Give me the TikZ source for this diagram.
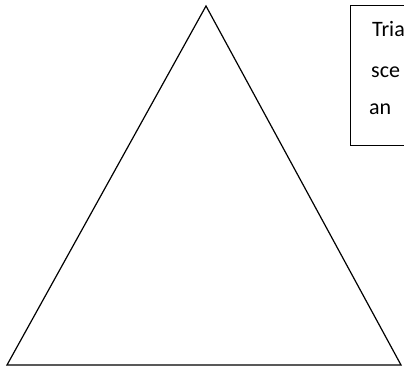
\documentclass[tikz,border=0pt]{standalone}
\usepackage{fontspec}
\setmainfont{Carlito}
\begin{document}
\begin{tikzpicture}[x=1pt,y=1pt,
  edge/.style={draw=black,line width=1.2pt,line join=miter},
  txt/.style={anchor=base west,inner sep=0pt,font=\fontsize{22}{26}\selectfont}]
\useasboundingbox (0,0) rectangle (404,370);
\clip (0,0) rectangle (404,370);
\coordinate (apex) at (206,364);
\coordinate (bl) at (7,5);
\coordinate (br) at (401,5);
\draw[edge] (apex) -- (bl) -- (br) -- cycle;
\draw[line width=1pt] (350,224) rectangle (430,364);
\node[txt] (l1) at (372,333) {Tria};
\node[txt] (l2) at (371,292) {sce};
\node[txt] (l3) at (369,255) {an};
\end{tikzpicture}
\end{document}
